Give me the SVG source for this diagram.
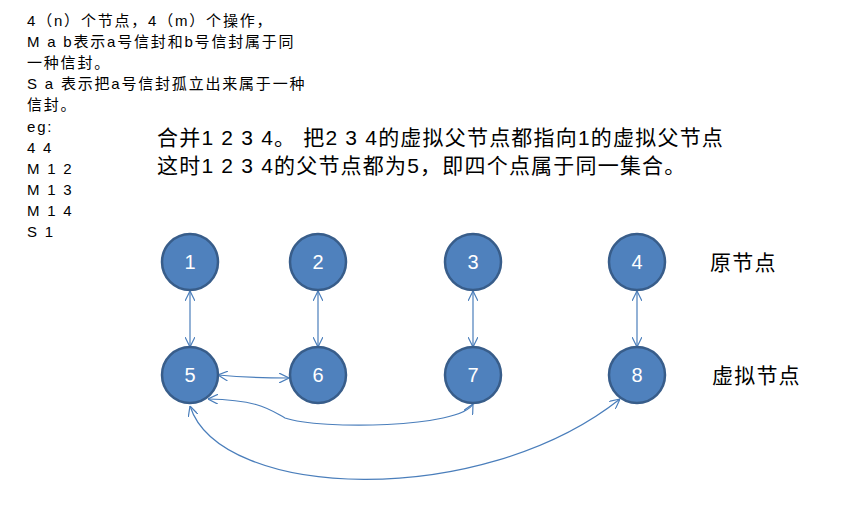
<svg xmlns="http://www.w3.org/2000/svg" width="859" height="516" viewBox="0 0 859 516">
<style>
text{font-family:"Liberation Sans","Noto Sans CJK SC",sans-serif;fill:#000}
.s{font-size:15px;letter-spacing:1.8px}
.b{font-size:21px;letter-spacing:1.2px}
.n circle{fill:#4f81bd;stroke:#385d8a;stroke-width:2.5}
.n text{fill:#fff;font-size:20px;text-anchor:middle}
.c path{fill:none;stroke:#4a7ebb;stroke-width:1.2;marker-start:url(#a);marker-end:url(#a)}
</style>
<defs><marker id="a" viewBox="0 0 10 10" refX="10" refY="5" markerWidth="10" markerHeight="10" markerUnits="userSpaceOnUse" orient="auto-start-reverse"><path d="M0,0 L10,5 L0,10" fill="none" stroke="#4a7ebb" stroke-width="1.2"/></marker></defs>
<rect width="859" height="516" fill="#fff"/>
<g id="notes" class="s">
<text x="27" y="26">4（n）个节点，4（m）个操作，</text>
<text x="27" y="47">M  a b表示a号信封和b号信封属于同</text>
<text x="27" y="68">一种信封。</text>
<text x="27" y="89">S  a 表示把a号信封孤立出来属于一种</text>
<text x="27" y="110">信封。</text>
<text x="27" y="132">eg:</text>
<text x="27" y="153">4  4</text>
<text x="27" y="174">M 1 2</text>
<text x="27" y="195">M 1 3</text>
<text x="27" y="216">M 1 4</text>
<text x="27" y="237">S  1</text>
</g>
<g id="title" class="b">
<text x="157" y="145">合并1 2 3 4。 把2 3 4的虚拟父节点都指向1的虚拟父节点</text>
<text x="157" y="173">这时1 2 3 4的父节点都为5，即四个点属于同一集合。</text>
</g>
<text x="710" y="270" class="b">原节点</text>
<text x="712" y="383" class="b">虚拟节点</text>
<g id="connectors" class="c">
<path d="M190,291 L190,347"/>
<path d="M318,291 L318,347"/>
<path d="M473,291 L473,347"/>
<path d="M637,291 L637,347"/>
<path d="M218,375 Q250,378 289,378"/>
<path d="M208,399 C260,400 270,410 285,418 C320,430 460,428 473,404"/>
<path d="M190,406 C220,500 480,510 620,399"/>
</g>
<g id="n1" class="n"><circle cx="190" cy="262" r="28"/><text x="190" y="269">1</text></g>
<g id="n2" class="n"><circle cx="318" cy="262" r="28"/><text x="318" y="269">2</text></g>
<g id="n3" class="n"><circle cx="473" cy="262" r="28"/><text x="473" y="269">3</text></g>
<g id="n4" class="n"><circle cx="637" cy="262" r="28"/><text x="637" y="269">4</text></g>
<g id="n5" class="n"><circle cx="190" cy="375" r="28"/><text x="190" y="382">5</text></g>
<g id="n6" class="n"><circle cx="318" cy="375" r="28"/><text x="318" y="382">6</text></g>
<g id="n7" class="n"><circle cx="473" cy="375" r="28"/><text x="473" y="382">7</text></g>
<g id="n8" class="n"><circle cx="637" cy="375" r="28"/><text x="637" y="382">8</text></g>
</svg>
